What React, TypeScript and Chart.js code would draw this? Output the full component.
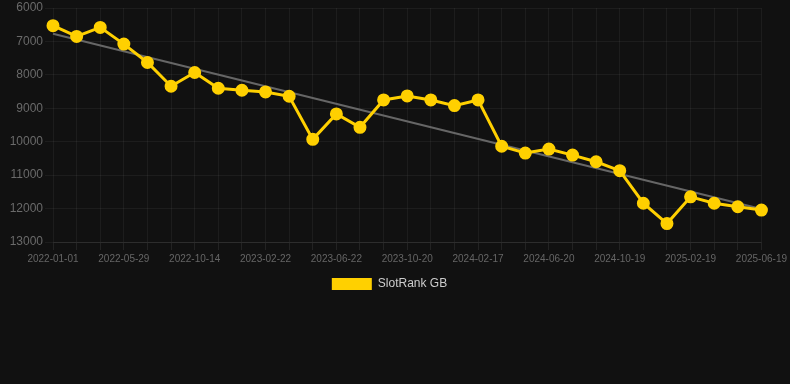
import React, { useEffect, useRef } from "react";
import { Chart, registerables } from "chart.js";

Chart.register(...registerables);

const dates: string[] = [
  "2022-01-01", "2022-02-19", "2022-04-09", "2022-05-29", "2022-07-17", "2022-09-04",
  "2022-10-14", "2022-11-29", "2023-01-10", "2023-02-22", "2023-04-02", "2023-05-13",
  "2023-06-22", "2023-08-01", "2023-09-10", "2023-10-20", "2023-11-28", "2024-01-08",
  "2024-02-17", "2024-03-28", "2024-05-09", "2024-06-20", "2024-07-30", "2024-09-08",
  "2024-10-19", "2024-11-29", "2025-01-09", "2025-02-19", "2025-03-31", "2025-05-10",
  "2025-06-19",
];

const slotRankGB: number[] = [
  6530, 6850, 6580, 7080, 7630, 8340, 7930, 8400, 8460, 8510, 8640,
  9930, 9170, 9570, 8750, 8630, 8750, 8920, 8750, 10135, 10340,
  10220, 10400, 10600, 10865, 11840, 12450, 11650, 11840, 11945, 12045,
];

const trendStart = 6770;
const trendEnd = 12010;

const yMin = 6000;
const yMax = 13000;
const yStep = 1000;

const FONT = "'Liberation Sans', Arial, sans-serif";

export default function App() {
  const ref = useRef<HTMLCanvasElement | null>(null);

  useEffect(() => {
    if (!ref.current) return;
    const n = dates.length;
    const trend = dates.map((_, i) => (i === 0 ? trendStart : i === n - 1 ? trendEnd : null));
    const chart = new Chart(ref.current, {
      type: "line",
      data: {
        labels: dates,
        datasets: [
          {
            label: "SlotRank GB",
            data: slotRankGB,
            borderColor: "#FFD000",
            backgroundColor: "#FFD000",
            borderWidth: 3,
            pointRadius: 5,
            pointBackgroundColor: "#FFD000",
            pointBorderColor: "#FFD000",
            tension: 0,
            order: 1,
          },
          {
            label: "trend",
            data: trend,
            borderColor: "#666666",
            backgroundColor: "#666666",
            borderWidth: 2,
            pointRadius: 0,
            spanGaps: true,
            order: 2,
          },
        ],
      },
      options: {
        animation: false,
        responsive: false,
        maintainAspectRatio: false,
        layout: { padding: { left: 0, right: 11, top: 0, bottom: 0 } },
        plugins: {
          legend: {
            position: "bottom",
            labels: {
              color: "#cccccc",
              font: { family: FONT, size: 12 },
              boxWidth: 40,
              boxHeight: 12,
              generateLabels: (c: any) =>
                Chart.defaults.plugins.legend.labels
                  .generateLabels(c)
                  .filter((it: any) => it.text !== "trend")
                  .map((it: any) => ({ ...it, lineWidth: 0, strokeStyle: "rgba(0,0,0,0)" })),
            },
          },
          tooltip: { enabled: false },
        },
        scales: {
          x: {
            grid: { color: "rgba(255,255,255,0.05)", tickColor: "rgba(255,255,255,0.08)" },
            border: { color: "rgba(255,255,255,0.08)" },
            ticks: {
              color: "#666666",
              font: { family: FONT, size: 10 },
              autoSkip: false,
              maxRotation: 0,
              callback: function (_v, i) {
                return i % 3 === 0 ? dates[i] : "";
              },
            },
          },
          y: {
            reverse: true,
            min: yMin,
            max: yMax,
            grid: { color: "rgba(255,255,255,0.05)", drawTicks: true, tickLength: 8 },
            border: { display: false },
            afterFit: (scale: any) => {
              scale.width = 53;
              scale.paddingTop = 5;
            },
            ticks: {
              stepSize: yStep,
              color: "#6a6a6a",
              padding: 2,
              font: { family: FONT, size: 12 },
              callback: (v) => String(v),
            },
          },
        },
      },
    });
    return () => chart.destroy();
  }, []);

  return (
    <div style={{ position: "fixed", left: 0, top: 0, width: 790, height: 384, background: "#111111" }}>
      <canvas ref={ref} width={790} height={300} style={{ display: "block" }} />
    </div>
  );
}
